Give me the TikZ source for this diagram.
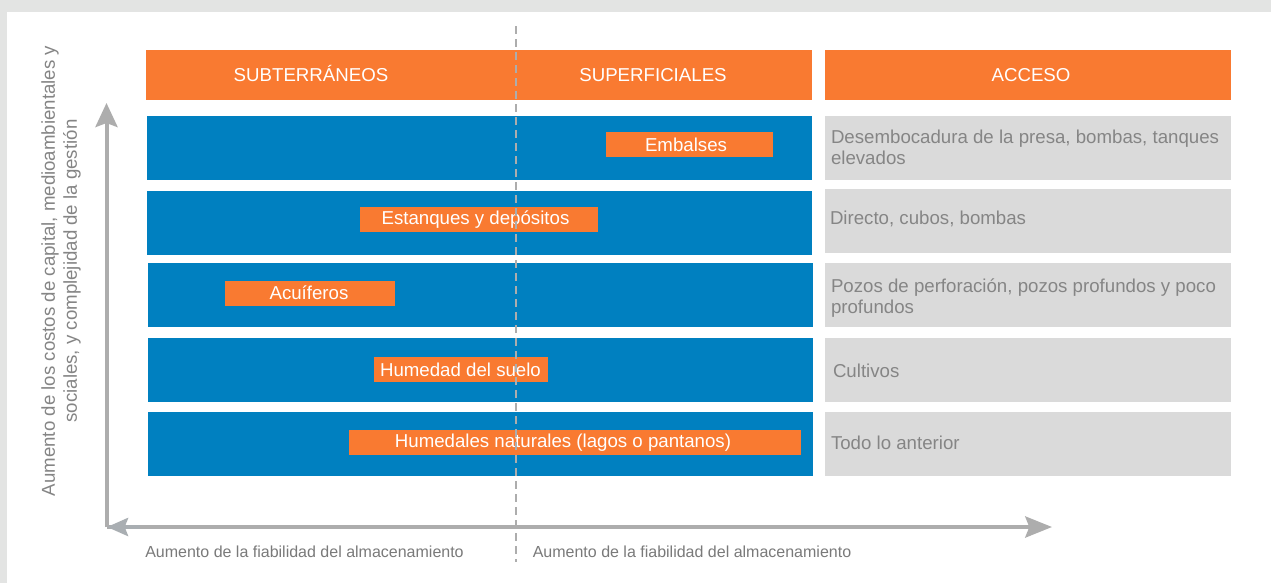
\documentclass[tikz,border=0pt]{standalone}
\usepackage{fontspec}
\setmainfont{Liberation Sans}
\usetikzlibrary{arrows.meta}
\definecolor{bggrey}{HTML}{E3E4E3}
\definecolor{orng}{HTML}{F97A31}
\definecolor{blu}{HTML}{0080C0}
\definecolor{accgrey}{HTML}{DADADA}
\definecolor{axgrey}{HTML}{ADADAD}
\definecolor{axgreyb}{HTML}{A9AEB2}
\definecolor{txtgrey}{HTML}{858585}
\definecolor{btxtgrey}{HTML}{7A7A7A}
\begin{document}
\begin{tikzpicture}[x=0.75pt,y=-0.75pt,
  every node/.style={inner sep=0pt, outer sep=0pt},
  bigfont/.style={font=\fontsize{14}{15.75}\selectfont},
  header/.style={fill=orng, minimum height=37.5pt, text=white, bigfont},
  htext/.style={text=white, bigfont, text height=10pt, text depth=0pt},
  rowbar/.style={fill=blu, minimum width=498.75pt, minimum height=48pt},
  accbox/.style={fill=accgrey, minimum width=304.5pt, minimum height=48pt},
  acctext/.style={anchor=west, align=left, text=txtgrey, bigfont},
  lbl/.style={fill=orng, minimum height=18.75pt},
  lbltext/.style={text=white, bigfont},
  axis/.style={draw=axgrey, line width=3pt},
  axlabel/.style={text=btxtgrey, font=\fontsize{12}{14}\selectfont},
  divider/.style={draw=axgrey, line width=1.5pt, dash pattern=on 6pt off 3.75pt}
]
\useasboundingbox (0,0) rectangle (1271,583);
\fill[bggrey] (0,0) rectangle (1271,583);
\fill[white] (7,12) rectangle (1271,583);

% headers
\node[header, minimum width=499.5pt] (hleft) at (479,75) {};
\node[htext] (hsub) at (311,75) {SUBTERRÁNEOS};
\node[htext] (hsup) at (653,75) {SUPERFICIALES};
\node[header, minimum width=304.5pt] (hacc) at (1028,75) {};
\node[htext] (hacct) at (1031,75) {ACCESO};

% blue rows
\node[rowbar] (r1) at (479,148) {};
\node[rowbar] (r2) at (479,222.5) {};
\node[rowbar] (r3) at (480,295) {};
\node[rowbar] (r4) at (480,370) {};
\node[rowbar] (r5) at (480,444) {};

% access boxes
\node[accbox] (a1) at (1028,148) {};
\node[accbox] (a2) at (1028,221) {};
\node[accbox] (a3) at (1028,295) {};
\node[accbox] (a4) at (1028,370) {};
\node[accbox] (a5) at (1028,444) {};
\node[acctext] (t1) at (831,147.5) {Desembocadura de la presa, bombas, tanques\\elevados};
\node[acctext] (t2) at (830,218.5) {Directo, cubos, bombas};
\node[acctext] (t3) at (831,298) {Pozos de perforación, pozos profundos y poco\\profundos};
\node[acctext] (t4) at (833,370.5) {Cultivos};
\node[acctext] (t5) at (831,442.5) {Todo lo anterior};

% orange labels
\node[lbl, minimum width=125.25pt] (l1) at (689.5,144.5) {};
\node[lbltext] (l1t) at (686,144.5) {Embalses};
\node[lbl, minimum width=178.5pt] (l2) at (479,219.5) {};
\node[lbltext] (l2t) at (475.5,219.5) {Estanques y depósitos};
\node[lbl, minimum width=127.5pt] (l3) at (310,293) {};
\node[lbltext] (l3t) at (309,293) {Acuíferos};
\node[lbl, minimum width=130.5pt] (l4) at (461,369.5) {};
\node[lbltext] (l4t) at (460.5,369.5) {Humedad del suelo};
\node[lbl, minimum width=339pt] (l5) at (575,442.5) {};
\node[lbltext] (l5t) at (563,442.5) {Humedales naturales (lagos o pantanos)};

% axes
\coordinate (origin) at (106.5,527);
\coordinate (ytip) at (106.5,103);
\coordinate (xtip) at (1052,527);
\coordinate (xleftstart) at (140,527);
\coordinate (xleft) at (107,527);
\draw[axis, -{Stealth[length=18pt,width=16.5pt,inset=3pt]}] (origin) -- (ytip);
\draw[axis, -{Stealth[length=20pt,width=15.75pt,inset=3pt]}] (origin) -- (xtip);
\draw[draw=axgreyb, line width=3pt, -{Stealth[length=15.75pt,width=13.5pt,inset=2.5pt]}] (xleftstart) -- (xleft);

% axis labels
\node[rotate=90, align=center, text=txtgrey, font=\fontsize{14}{16.5}\selectfont] (ylab) at (61,271)
  {Aumento de los costos de capital, medioambientales y\\sociales, y complejidad de la gestión};
\node[axlabel] (xlab1) at (304.5,552) {Aumento de la fiabilidad del almacenamiento};
\node[axlabel] (xlab2) at (692,552) {Aumento de la fiabilidad del almacenamiento};

% divider
\coordinate (dtop) at (516,26);
\coordinate (dbot) at (516,562);
\draw[divider] (dtop) -- (dbot);
\end{tikzpicture}
\end{document}
